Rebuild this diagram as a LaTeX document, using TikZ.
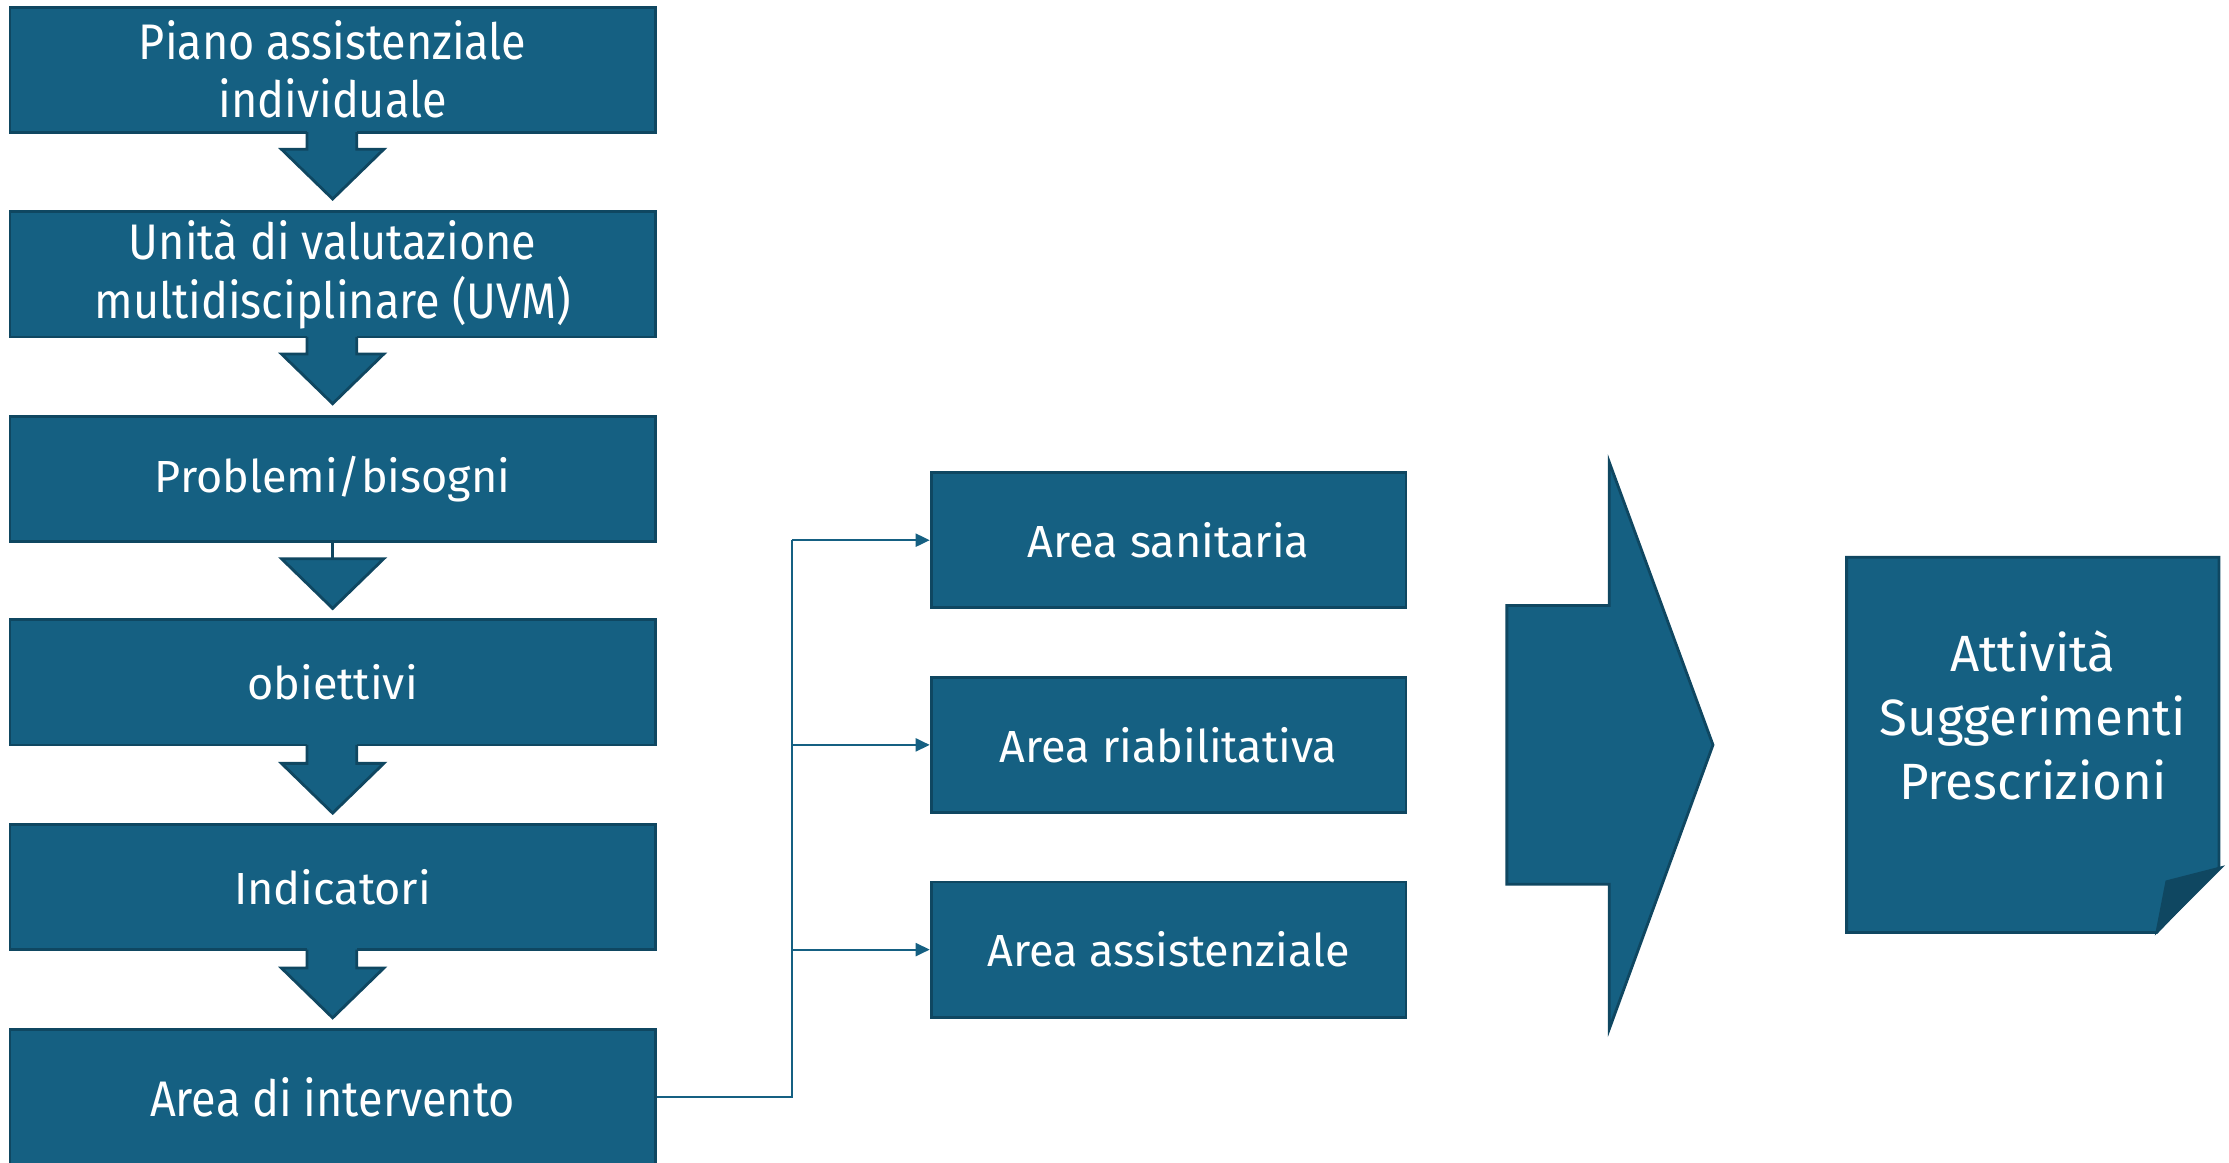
\documentclass[tikz,border=0pt]{standalone}
\usepackage{fontspec}
\setmainfont{Fira Sans}
\newfontfamily\narrowf[FakeStretch=0.9]{Fira Sans}
\usetikzlibrary{arrows.meta}
\definecolor{tealfill}{HTML}{156082}
\definecolor{tealline}{HTML}{0F4761}
\def\u{0.7108pt}
\tikzset{
  x=0.7108pt, y=-0.7108pt,
  boxbase/.style={rectangle, fill=tealfill, draw=tealline, line width=1.4pt,
    text=white, align=center, inner sep=0pt, font=\fontsize{22.5}{29}\selectfont},
  lbox/.style={boxbase, minimum width=454*\u, minimum height=88*\u},
  rbox/.style={boxbase, minimum width=334*\u, minimum height=95*\u},
  narrowtext/.style={font=\narrowf\fontsize{25}{29.1}\selectfont},
  downfill/.style={fill=tealfill},
  downline/.style={draw=tealline, line width=1.4pt, line join=miter},
  conn/.style={draw=tealfill, line width=1pt, -{Triangle[length=7pt,width=6.5pt]}},
}
\begin{document}
\begin{tikzpicture}
\useasboundingbox (0,0) rectangle (1568,818);

% left column
\node[lbox, narrowtext] (b1) at (234,49) {Piano assistenziale\\individuale};
\node[lbox, narrowtext] (b2) at (234,193) {Unità di valutazione\\multidisciplinare (UVM)};
\node[lbox] (b3) at (234,337) {Problemi/bisogni};
\node[lbox] (b4) at (234,480) {obiettivi};
\node[lbox] (b5) at (234,624) {Indicatori};
\node[lbox, narrowtext, minimum height=96*\u] (b6) at (234,772) {Area di intervento};

% block down arrows
\foreach \yt/\ys/\yh in {93/105/140, 237/249/284, 524/537/572, 668/681/716}{
  \fill[downfill] (216,\yt-2) -- (251,\yt-2) -- (251,\ys) -- (270,\ys) -- (234,\yh) -- (198,\ys) -- (216,\ys) -- cycle;
  \draw[downline] (216,\yt) -- (216,\ys) -- (198,\ys) -- (234,\yh) -- (270,\ys) -- (251,\ys) -- (251,\yt);
}
% thin line + triangle
\draw[tealline, line width=1.4pt] (b3.south) -- (234,393);
\filldraw[fill=tealfill, draw=tealline, line width=1.4pt, line join=miter] (198,393) -- (270,393) -- (234,428) -- cycle;

% right boxes
\node[rbox] (r1) at (822,380) {Area sanitaria};
\node[rbox] (r2) at (822,524) {Area riabilitativa};
\node[rbox] (r3) at (822,668) {Area assistenziale};

% connectors
\coordinate (j1) at (557,380);
\coordinate (j2) at (557,524);
\coordinate (j3) at (557,668);
\draw[draw=tealfill, line width=1pt] (b6.east) -| (j1);
\draw[conn] (j1) -- (r1.west);
\draw[conn] (j2) -- (r2.west);
\draw[conn] (j3) -- (r3.west);

% big right arrow
\filldraw[fill=tealfill, draw=tealline, line width=1.4pt, line join=miter]
  (1060,426) -- (1132,426) -- (1132,325) -- (1205,524) -- (1132,724) -- (1132,622) -- (1060,622) -- cycle;

% note with folded corner
\filldraw[fill=tealfill, draw=tealline, line width=1.4pt, line join=miter]
  (1299,392) -- (1561,392) -- (1561,610) -- (1517,656) -- (1299,656) -- cycle;
\filldraw[fill=tealline, draw=tealline, line width=1pt, line join=miter]
  (1517,656) -- (1524,620) -- (1563,610) -- cycle;
\node[text=white, align=center, inner sep=0pt, font=\fontsize{25.5}{32}\selectfont] (note) at (1430,503)
  {Attività\\Suggerimenti\\Prescrizioni};
\end{tikzpicture}
\end{document}
